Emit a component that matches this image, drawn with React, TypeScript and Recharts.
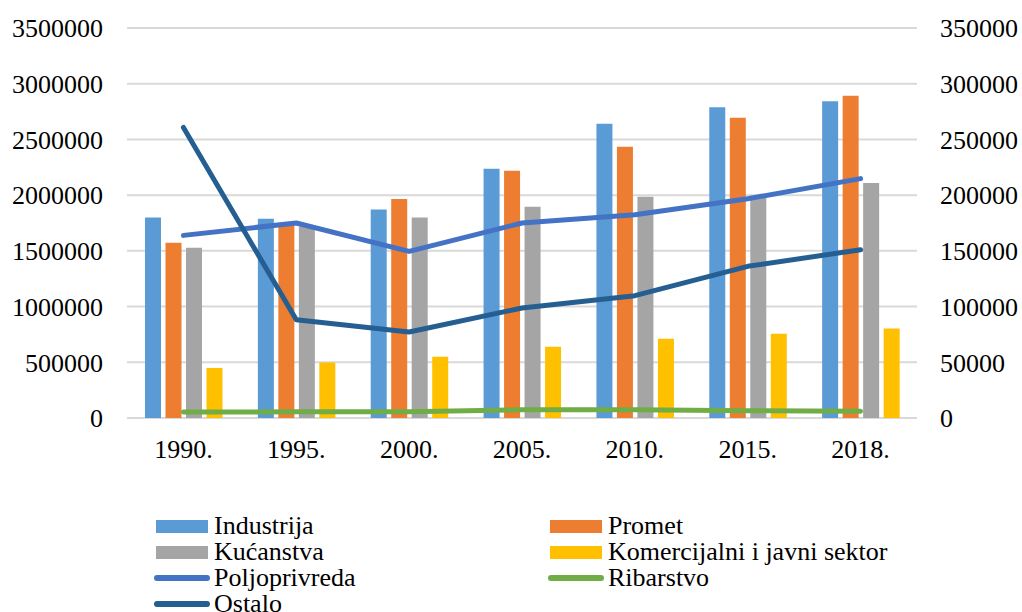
import { ComposedChart, Bar, Line, XAxis, YAxis, CartesianGrid } from 'recharts';

// Energy consumption by sector, bars on the left axis, lines on the right one.
const years = ['1990.', '1995.', '2000.', '2005.', '2010.', '2015.', '2018.'];

const industrija = [1800000, 1789000, 1872000, 2237000, 2641000, 2788000, 2842000];
const promet = [1573000, 1735000, 1965000, 2220000, 2435000, 2695000, 2893000];
const kucanstva = [1528000, 1720000, 1800000, 1896000, 1986000, 1980000, 2109000];
const komercijalni = [449000, 499000, 550000, 640000, 712000, 757000, 804000];

const poljoprivreda = [163900, 175000, 149500, 175000, 182400, 196800, 214800];
const ribarstvo = [5400, 5500, 5500, 7400, 7400, 6500, 6000];
const ostalo = [260800, 88200, 77200, 98700, 109800, 136100, 151000];

const leftTicks = [0, 500000, 1000000, 1500000, 2000000, 2500000, 3000000, 3500000];
const rightTicks = [0, 50000, 100000, 150000, 200000, 250000, 300000, 350000];

const data = years.map((year, i) => ({
  year,
  industrija: industrija[i],
  promet: promet[i],
  kucanstva: kucanstva[i],
  komercijalni: komercijalni[i],
  poljoprivreda: poljoprivreda[i],
  ribarstvo: ribarstvo[i],
  ostalo: ostalo[i],
}));

const FONT = 'Liberation Serif';

const bars = [
  { key: 'industrija', name: 'Industrija', color: '#5B9BD5' },
  { key: 'promet', name: 'Promet', color: '#ED7D31' },
  { key: 'kucanstva', name: 'Kućanstva', color: '#A5A5A5' },
  { key: 'komercijalni', name: 'Komercijalni i javni sektor', color: '#FFC000' },
];

const lines = [
  { key: 'poljoprivreda', name: 'Poljoprivreda', color: '#4472C4' },
  { key: 'ribarstvo', name: 'Ribarstvo', color: '#70AD47' },
  { key: 'ostalo', name: 'Ostalo', color: '#255E91' },
];

// legend order reads row by row across two columns
const legendItems = [
  ...bars.map((b) => ({ ...b, kind: 'bar' })),
  ...lines.map((l) => ({ ...l, kind: 'line' })),
];

const tickStyle = { fontSize: 26, fill: '#000', fontFamily: FONT };

export default function App() {
  return (
    <div
      style={{
        position: 'absolute',
        left: 0,
        top: 0,
        width: 1022,
        height: 612,
        background: '#fff',
        overflow: 'hidden',
        fontFamily: FONT,
      }}
    >
      <ComposedChart
        width={1022}
        height={612}
        data={data}
        margin={{ top: 28, right: 0, bottom: 134, left: 0 }}
        barSize={16}
        barGap={4.5}
        style={{ fontFamily: FONT }}
      >
        <CartesianGrid vertical={false} yAxisId="left" stroke="#d9d9d9" strokeWidth={2} />
        <XAxis
          dataKey="year"
          height={60}
          axisLine={false}
          tickLine={false}
          tickSize={0}
          tickMargin={22}
          tick={tickStyle}
        />
        <YAxis
          yAxisId="left"
          orientation="left"
          width={127}
          domain={[0, 3500000]}
          ticks={leftTicks}
          axisLine={false}
          tickLine={false}
          tickSize={0}
          tickMargin={24}
          tick={tickStyle}
        />
        <YAxis
          yAxisId="right"
          orientation="right"
          width={105}
          domain={[0, 350000]}
          ticks={rightTicks}
          axisLine={false}
          tickLine={false}
          tickSize={0}
          tickMargin={23}
          tick={tickStyle}
        />
        {bars.map((b) => (
          <Bar
            key={b.key}
            yAxisId="left"
            dataKey={b.key}
            name={b.name}
            fill={b.color}
            isAnimationActive={false}
          />
        ))}
        {lines.map((l) => (
          <Line
            key={l.key}
            yAxisId="right"
            type="linear"
            dataKey={l.key}
            name={l.name}
            stroke={l.color}
            strokeWidth={5}
            strokeLinecap="round"
            strokeLinejoin="round"
            dot={false}
            activeDot={false}
            isAnimationActive={false}
          />
        ))}
      </ComposedChart>
      <div
        style={{
          position: 'absolute',
          left: 154,
          top: 513,
          width: 760,
          display: 'grid',
          gridTemplateColumns: '394px 360px',
          fontFamily: FONT,
          fontSize: 26,
          lineHeight: '26px',
          color: '#000',
        }}
      >
        {legendItems.map((it) => (
          <div
            key={it.key}
            style={{ display: 'flex', alignItems: 'center', height: 26, whiteSpace: 'nowrap' }}
          >
            {it.kind === 'bar' ? (
              <span
                style={{
                  display: 'inline-block',
                  width: 52,
                  height: 13,
                  background: it.color,
                  marginLeft: 2,
                  marginRight: 6,
                }}
              />
            ) : (
              <span
                style={{
                  display: 'inline-block',
                  width: 56,
                  height: 6,
                  borderRadius: 3,
                  background: it.color,
                  marginRight: 4,
                }}
              />
            )}
            <span>{it.name}</span>
          </div>
        ))}
      </div>
    </div>
  );
}
